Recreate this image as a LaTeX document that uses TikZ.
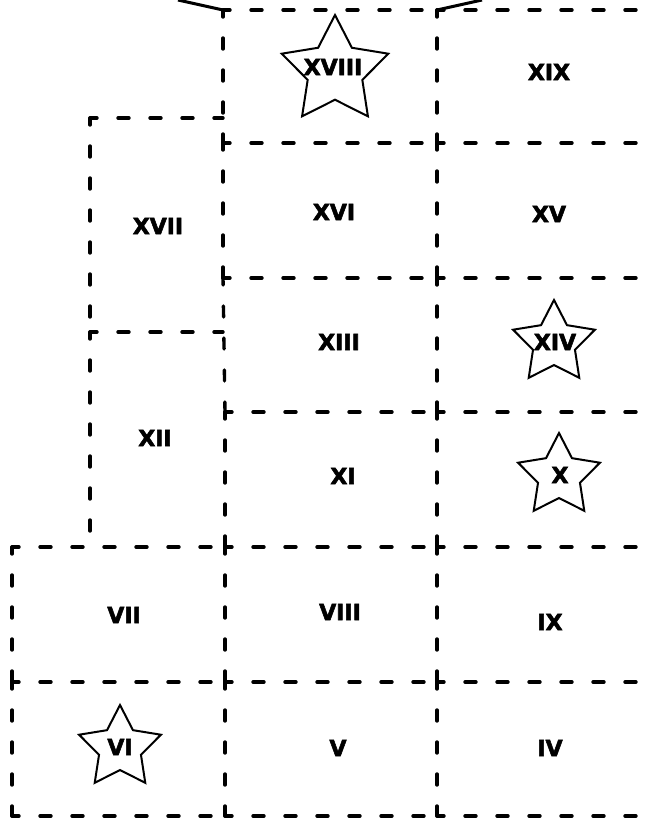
\documentclass[tikz,border=0pt]{standalone}
\usepackage{fontspec}
\setmainfont{DejaVu Sans}
\newfontfamily\lblfont[FakeBold=2.5]{DejaVu Sans}
\usetikzlibrary{shapes.geometric}
\begin{document}
\begin{tikzpicture}[x=1pt,y=-1pt,
  grid/.style={line width=3.4pt, line cap=round, dash pattern=on 11pt off 21pt, dash phase=4pt},
  solidline/.style={line width=3pt},
  lbl/.style={font=\fontsize{22}{22}\lblfont\bfseries, inner sep=0},
  starshape/.style={star, star points=5, star point ratio=1.95, draw, line width=2pt, inner sep=0, minimum size=#1}]
\useasboundingbox (0,0) rectangle (645,827);
% top solid lines
\coordinate (tl) at (178,0);
\coordinate (tr) at (482,0);
\coordinate (c1) at (223,10);
\coordinate (c2) at (437,10);
\draw[solidline] (tl) -- (c1);
\draw[solidline] (c2) -- (tr);
% horizontal dashed lines
\draw[grid] (223,10) -- (437,10);
\draw[grid] (437,10) -- (645,10);
\draw[grid] (90,118) -- (223,118);
\draw[grid] (223,143) -- (437,143);
\draw[grid] (437,143) -- (645,143);
\draw[grid] (223,278) -- (437,278);
\draw[grid] (437,278) -- (645,278);
\draw[grid] (90,332) -- (223,332);
\draw[grid] (225,412) -- (437,412);
\draw[grid] (437,412) -- (645,412);
\foreach \yy in {547,682,816}{
  \draw[grid] (12,\yy) -- (225,\yy);
  \draw[grid] (225,\yy) -- (437,\yy);
  \draw[grid] (437,\yy) -- (645,\yy);
}
% vertical dashed lines
\draw[grid] (12,547) -- (12,682);
\draw[grid] (12,682) -- (12,816);
\draw[grid] (90,118) -- (90,332);
\draw[grid] (90,332) -- (90,547);
\draw[grid] (223,10) -- (223,143);
\draw[grid] (223,143) -- (223,278);
\draw[grid] (223,278) -- (225,412);
\draw[grid] (225,412) -- (225,547);
\draw[grid] (225,547) -- (225,682);
\draw[grid] (225,682) -- (225,816);
\draw[grid] (437,10) -- (437,143);
\draw[grid] (437,143) -- (437,278);
\draw[grid] (437,278) -- (437,412);
\draw[grid] (437,412) -- (437,547);
\draw[grid] (437,547) -- (437,682);
\draw[grid] (437,682) -- (437,816);
% stars
\node[starshape=112pt] (s18) at (335,71) {};
\node[starshape=86pt] (s14) at (554,343) {};
\node[starshape=86pt] (s10) at (559,476) {};
\node[starshape=86pt] (s6) at (120,748) {};
% labels
\node[lbl] (l18) at (333,67) {XVIII};
\node[lbl] (l19) at (549,72) {XIX};
\node[lbl] (l17) at (158,226) {XVII};
\node[lbl] (l16) at (334,212) {XVI};
\node[lbl] (l15) at (549,214) {XV};
\node[lbl] (l13) at (339,342) {XIII};
\node[lbl] (l14) at (555,342) {XIV};
\node[lbl] (l12) at (155,438) {XII};
\node[lbl] (l11) at (343,476) {XI};
\node[lbl] (l10) at (560,475) {X};
\node[lbl] (l7) at (124,615) {VII};
\node[lbl] (l8) at (340,612) {VIII};
\node[lbl] (l9) at (550,622) {IX};
\node[lbl] (l6) at (120,747) {VI};
\node[lbl] (l5) at (338,748) {V};
\node[lbl] (l4) at (550,748) {IV};
\end{tikzpicture}
\end{document}
